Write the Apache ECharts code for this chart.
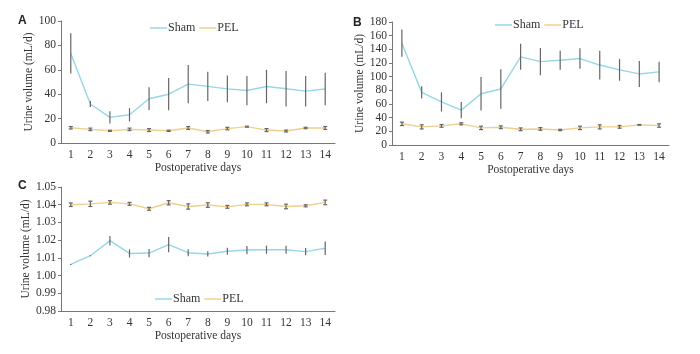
<!DOCTYPE html>
<html>
<head>
<meta charset="utf-8">
<script src="https://cdn.jsdelivr.net/npm/echarts@6/dist/echarts.min.js"></script>
<style>
  html, body { margin: 0; padding: 0; background: #fff; }
  #chart { width: 700px; height: 354px; }
</style>
</head>
<body>
<div id="chart"></div>
<script>
// x categories
const days = ['1', '2', '3', '4', '5', '6', '7', '8', '9', '10', '11', '12', '13', '14'];

// panel A - urine volume
const shamA = [73.4, 32, 21, 23.1, 36.3, 40, 48.3, 46.4, 44.4, 43, 46.3, 44.5, 42.5, 44.3];
const shamAErr = [16.5, 2.5, 5, 5.4, 9.3, 13.2, 15.7, 12, 11, 12, 13.7, 14.5, 12.5, 13.3];
const pelA = [12.5, 11.2, 10, 11.2, 10.6, 10, 12.3, 9.2, 11.8, 13.4, 10.6, 9.8, 12.3, 12.3];
const pelAErr = [1, 1, 0.5, 1, 1.2, 0.5, 1.2, 1, 1, 0.4, 1.2, 0.8, 0.6, 1.2];

// panel B
const shamB = [149, 77, 63, 51, 75, 82, 129, 122, 124, 126.5, 117, 110, 104, 107];
const shamBErr = [20, 9, 14, 12, 24.5, 29, 19, 20, 14, 15, 21, 16, 19, 15];
const pelB = [31, 26.5, 28, 31, 25, 26, 23, 23.5, 22, 25, 26.5, 26.5, 29.5, 28.5];
const pelBErr = [2.5, 3, 2, 1.5, 2.5, 2, 2, 2, 1, 2.5, 3, 2, 0.5, 2.5];

// panel C
const shamC = [1.0063, 1.0112, 1.0197, 1.0125, 1.0127, 1.0175, 1.0129, 1.0122, 1.0137, 1.0144, 1.0146, 1.0146, 1.0135, 1.0154];
const shamCErr = [0.0003, 0.0003, 0.0027, 0.0023, 0.0023, 0.0043, 0.002, 0.0015, 0.002, 0.0023, 0.0023, 0.0023, 0.002, 0.0038];
const pelC = [1.0400, 1.0405, 1.0413, 1.0405, 1.0377, 1.0411, 1.0390, 1.0398, 1.0388, 1.0402, 1.0402, 1.0390, 1.0394, 1.0413];
const pelCErr = [0.001, 0.0015, 0.001, 0.0008, 0.0008, 0.0012, 0.0015, 0.0013, 0.0008, 0.0008, 0.0008, 0.0013, 0.0006, 0.0013];

const SHAM_COLOR = '#95d7e8';
const PEL_COLOR = '#f0cf8c';
const AXIS_COLOR = '#777';
const FONT = 'Liberation Serif';

// error bar renderer, cap = half width of cap in px (0 -> no cap)
function errRender(cap) {
  return function (params, api) {
    const x = api.value(0);
    const lo = api.coord([x, api.value(1)]);
    const hi = api.coord([x, api.value(2)]);
    const st = { stroke: '#666', lineWidth: 1.2 };
    const children = [{ type: 'line', shape: { x1: lo[0], y1: lo[1], x2: hi[0], y2: hi[1] }, style: st }];
    if (cap) {
      children.push({ type: 'line', shape: { x1: lo[0] - cap, y1: lo[1], x2: lo[0] + cap, y2: lo[1] }, style: st });
      children.push({ type: 'line', shape: { x1: hi[0] - cap, y1: hi[1], x2: hi[0] + cap, y2: hi[1] }, style: st });
    }
    return { type: 'group', children: children };
  };
}

function errData(mean, err) {
  return mean.map((m, i) => [i, m - err[i], m + err[i]]);
}

function xAxisCfg(gi) {
  return {
    gridIndex: gi,
    type: 'category',
    data: days,
    boundaryGap: true,
    name: 'Postoperative days',
    nameLocation: 'middle',
    nameGap: 19,
    nameTextStyle: { fontFamily: FONT, fontSize: 11.5, color: '#333' },
    axisLine: { lineStyle: { color: AXIS_COLOR, width: 1 } },
    axisTick: { length: 4, lineStyle: { color: AXIS_COLOR } },
    axisLabel: { fontFamily: FONT, fontSize: 11.5, color: '#333', margin: 6 },
    splitLine: { show: false }
  };
}

function yAxisCfg(gi, min, max, interval, gap, fmt) {
  return {
    gridIndex: gi,
    type: 'value',
    min: min,
    max: max,
    interval: interval,
    name: 'Urine volume (mL/d)',
    nameLocation: 'middle',
    nameGap: gap,
    nameTextStyle: { fontFamily: FONT, fontSize: 11.5, color: '#333' },
    axisLine: { show: true, lineStyle: { color: AXIS_COLOR, width: 1 } },
    axisTick: { show: true, length: 3, lineStyle: { color: AXIS_COLOR } },
    axisLabel: { fontFamily: FONT, fontSize: 11.5, color: '#333', margin: 5, formatter: fmt },
    splitLine: { show: false }
  };
}

function lineSeries(name, color, gi, data) {
  return {
    name: name,
    type: 'line',
    xAxisIndex: gi,
    yAxisIndex: gi,
    data: data,
    symbol: 'none',
    lineStyle: { color: color, width: 1.4 },
    itemStyle: { color: color },
    z: 2,
    animation: false
  };
}

function errSeries(gi, mean, err, cap) {
  return {
    type: 'custom',
    xAxisIndex: gi,
    yAxisIndex: gi,
    renderItem: errRender(cap),
    encode: { x: 0, y: [1, 2] },
    data: errData(mean, err),
    z: 3,
    silent: true,
    animation: false
  };
}

function legendCfg(left, top) {
  return {
    left: left,
    top: top,
    data: ['Sham', 'PEL'],
    icon: 'rect',
    itemWidth: 17,
    itemHeight: 1.5,
    itemGap: 4,
    textStyle: { fontFamily: FONT, fontSize: 12, color: '#333', padding: [0, 0, 0, -4] }
  };
}

const chart = echarts.init(document.getElementById('chart'), null, { renderer: 'canvas' });

chart.setOption({
  backgroundColor: '#fff',
  animation: false,
  title: [
    { text: 'A', left: 13, top: 10, textStyle: { fontFamily: 'Liberation Sans', fontSize: 12, fontWeight: 'bold', color: '#222' } },
    { text: 'B', left: 348, top: 12, textStyle: { fontFamily: 'Liberation Sans', fontSize: 12, fontWeight: 'bold', color: '#222' } },
    { text: 'C', left: 13, top: 175, textStyle: { fontFamily: 'Liberation Sans', fontSize: 12, fontWeight: 'bold', color: '#222' } }
  ],
  legend: [
    legendCfg(145, 17),
    legendCfg(490, 14),
    legendCfg(150, 288)
  ],
  grid: [
    { left: 61, top: 21, width: 274, height: 122 },
    { left: 392, top: 22, width: 277, height: 123 },
    { left: 61, top: 187, width: 274, height: 124 }
  ],
  xAxis: [xAxisCfg(0), xAxisCfg(1), xAxisCfg(2)],
  yAxis: [
    yAxisCfg(0, 0, 100, 20, 25),
    yAxisCfg(1, 0, 180, 20, 23),
    yAxisCfg(2, 0.98, 1.05, 0.01, 27, v => v.toFixed(2))
  ],
  series: [
    lineSeries('Sham', SHAM_COLOR, 0, shamA),
    lineSeries('PEL', PEL_COLOR, 0, pelA),
    errSeries(0, shamA, shamAErr, 0),
    errSeries(0, pelA, pelAErr, 2),

    lineSeries('Sham', SHAM_COLOR, 1, shamB),
    lineSeries('PEL', PEL_COLOR, 1, pelB),
    errSeries(1, shamB, shamBErr, 0),
    errSeries(1, pelB, pelBErr, 2),

    lineSeries('Sham', SHAM_COLOR, 2, shamC),
    lineSeries('PEL', PEL_COLOR, 2, pelC),
    errSeries(2, shamC, shamCErr, 0),
    errSeries(2, pelC, pelCErr, 2)
  ]
});
</script>
</body>
</html>
